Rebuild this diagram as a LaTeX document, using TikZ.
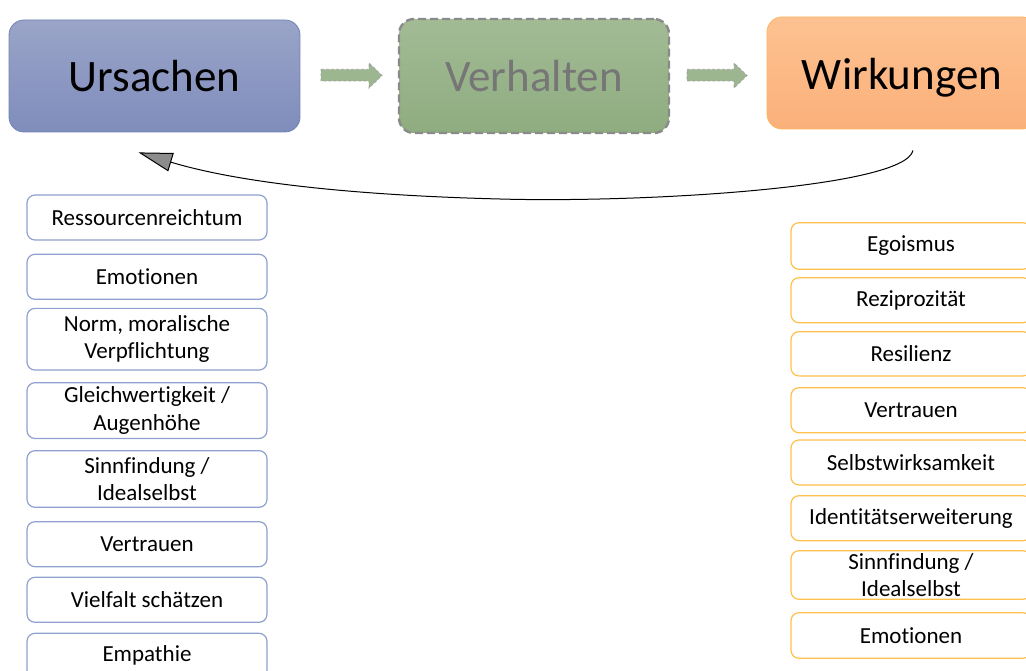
\documentclass[tikz,border=0pt]{standalone}
\usepackage{fontspec}
\setmainfont{Carlito}[Ligatures=NoCommon]
\usetikzlibrary{arrows.meta}
\definecolor{ursTop}{HTML}{9AA4C8}
\definecolor{ursBot}{HTML}{7F8DBC}
\definecolor{ursLine}{HTML}{7183B5}
\definecolor{verTop}{HTML}{A2BB95}
\definecolor{verBot}{HTML}{8FAC80}
\definecolor{verLine}{HTML}{8A8A8A}
\definecolor{verText}{HTML}{767676}
\definecolor{wirTop}{HTML}{FDC292}
\definecolor{wirBot}{HTML}{FBB079}
\definecolor{wirLine}{HTML}{FFB65C}
\definecolor{arrFill}{HTML}{9CB78F}
\definecolor{arrLine}{HTML}{A0A0A0}
\definecolor{leftLine}{HTML}{8FA1CF}
\definecolor{rightLine}{HTML}{FFC04D}
\begin{document}
\begin{tikzpicture}[x=1pt,y=-1pt,
  bigbox/.style={rounded corners=15pt, inner sep=0pt, font=\fontsize{45}{52}\selectfont,
    text height=31pt, text depth=0pt},
  causebox/.style={draw=leftLine, line width=1.2pt, rounded corners=8pt, minimum width=240pt,
    inner sep=0pt, align=center, font=\fontsize{23}{27.5}\selectfont, fill=white},
  effectbox/.style={causebox, draw=rightLine},
  blockarrow/.style={fill=arrFill, draw=arrLine, line width=0.8pt, dash pattern=on 3pt off 2pt}
]
\useasboundingbox (0,0) rectangle (1026,671);
\clip (0,0) rectangle (1026,671);

% main boxes
\node[bigbox, top color=ursTop, bottom color=ursBot, draw=ursLine, line width=0.8pt,
  minimum width=291pt, minimum height=112pt] (urs) at (154.5,76) {Ursachen};
\node[bigbox, top color=verTop, bottom color=verBot, draw=verLine, line width=2.4pt,
  dash pattern=on 8pt off 4pt, text=verText,
  minimum width=270pt, minimum height=114pt] (verh) at (534,76) {Verhalten};
\node[bigbox, top color=wirTop, bottom color=wirBot, draw=wirLine, line width=0.8pt,
  minimum width=270pt, minimum height=112pt, text height=34pt] (wirk) at (902,73) {Wirkungen};

% block arrows
\path[blockarrow] (321,69.3) -- (369,69.3) -- (369,63) -- (382,75.5) -- (369,88) -- (369,81) -- (321,81) -- cycle;
\path[blockarrow] (687,69.3) -- (734,69.3) -- (734,63) -- (747,75.5) -- (734,88) -- (734,81) -- (687,81) -- cycle;

% feedback arrow
\coordinate (fb1) at ([shift={(11,21)}]wirk.south);
\coordinate (fb2) at ([shift={(-16,20)}]urs.south);
\draw[line width=1pt, -{Triangle[length=34pt,width=19pt,fill=gray!90]}]
  (fb1) .. controls (905,188) and (640,203) .. (500,199)
        .. controls (380,196) and (250,186) .. (fb2);

% causes
\node[causebox, minimum height=45pt]   (c1) at (147,217.5) {Ressourcenreichtum};
\node[causebox, minimum height=45pt]   (c2) at (147,276.8) {Emotionen};
\node[causebox, minimum height=61.7pt] (c3) at (147,339.2) {Norm, moralische\\Verpflichtung};
\node[causebox, minimum height=55.8pt] (c4) at (147,410.6) {Gleichwertigkeit /\\Augenhöhe};
\node[causebox, minimum height=56.6pt] (c5) at (147,479)   {Sinnfindung /\\Idealselbst};
\node[causebox, minimum height=45pt]   (c6) at (147,544.2) {Vertrauen};
\node[causebox, minimum height=45pt]   (c7) at (147,599.8) {Vielfalt schätzen};
\node[causebox, minimum height=45pt]   (c8) at (147,655.8) {Empathie};

% effects
\node[effectbox, minimum height=46.6pt] (e1) at (911,246)   {Egoismus};
\node[effectbox, minimum height=45pt]   (e2) at (911,300.2) {Reziprozität};
\node[effectbox, minimum height=44.3pt] (e3) at (911,353.8) {Resilienz};
\node[effectbox, minimum height=45pt]   (e4) at (911,410.2) {Vertrauen};
\node[effectbox, minimum height=45pt]   (e5) at (911,462.5) {Selbstwirksamkeit};
\node[effectbox, minimum height=45pt]   (e6) at (911,518.2) {Identitätserweiterung};
\node[effectbox, minimum height=48.6pt] (e7) at (911,575)   {Sinnfindung /\\Idealselbst};
\node[effectbox, minimum height=45.6pt] (e8) at (911,635.5) {Emotionen};
\end{tikzpicture}
\end{document}
